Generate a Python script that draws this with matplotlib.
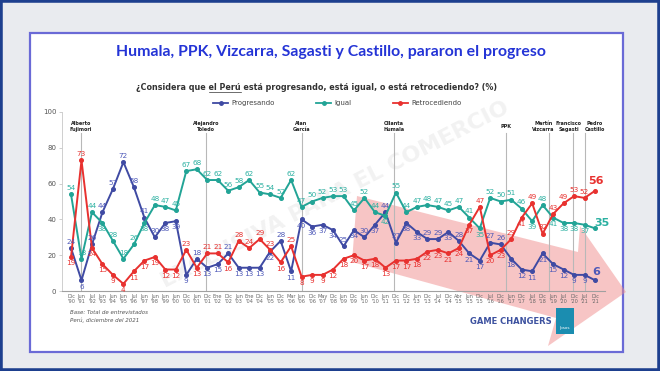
import matplotlib
matplotlib.use('Agg')
import matplotlib.pyplot as plt
from matplotlib.patches import Rectangle, Polygon
from matplotlib.lines import Line2D

# ---------------- data ----------------
months = ['Dic','Jun','Jul','Jun','Jun','Jun','Jul','Jun','Jun','Jun',
          'Jun','Dic','Jun','Dic','Ene','Dic','Jun','Ene','Dic','Jun',
          'Dic','Mar','Jun','Dic','May','Dic','Jun','Dic','Jun','Dic',
          'Jun','Dic','Dic','Jun','Dic','Jul','Dic','Abr','Jun','Dic',
          'Jul','Dic','Jun','Dic','Jul','Dic','Jun','Jul','Dic','Jul','Dic']
years = ['90','91','92','93','94','95','96','97','98','99',
         '00','00','01','01','02','02','03','04','04','05',
         '05','06','06','06','07','08','09','09','10','10',
         '11','11','12','13','13','14','14','15','15','15',
         '16','16','17','17','18','18','19','20','20','21','21']
progresando = [24,6,26,44,57,72,58,41,30,38,
               39,9,18,13,15,21,13,13,13,22,
               28,11,40,36,37,34,25,34,30,37,
               44,27,38,33,29,29,33,28,21,17,
               27,26,18,12,11,21,15,12,9,9,6]
igual = [54,18,44,38,28,18,26,38,48,47,
         45,67,68,62,62,56,58,62,55,54,
         52,62,47,50,52,53,53,45,52,44,
         42,55,44,47,48,47,45,47,41,35,
         52,50,51,46,39,48,41,38,38,37,35]
retrocediendo = [19,73,24,15,9,4,11,17,19,12,
                 12,23,13,21,21,16,28,24,29,23,
                 16,25,8,9,9,12,18,20,17,18,
                 13,17,17,18,22,23,21,24,37,47,
                 20,23,29,41,49,32,43,49,53,52,56]
series_names = ['Progresando', 'Igual', 'Retrocediendo']
presidents = ['Alberto\nFujimori', 'Alejandro\nToledo', 'Alan\nGarcía', 'Ollanta\nHumala',
              'PPK', 'Martín\nVizcarra', 'Francisco\nSagasti', 'Pedro\nCastillo']
president_pos = [0.95, 12.9, 22.0, 30.8, 41.5, 45.6, 47.9, 49.0]
president_label_pos = [0.95, 12.9, 22.0, 30.8, 41.5, 45.1, 47.5, 49.95]

title = 'Humala, PPK, Vizcarra, Sagasti y Castillo, pararon el progreso'
subtitle = '¿Considera que el Perú está progresando, está igual, o está retrocediendo? (%)'

# ---------------- style ----------------
C_PROG = '#3f4aa3'
C_IGU = '#22a496'
C_RET = '#e8312f'
L_PROG = '#4d58b8'
L_IGU = '#2bb0a1'
L_RET = '#e8312f'

W, H = 660, 371
def fx(px): return px / W
def fy(py): return 1 - py / H

fig = plt.figure(figsize=(6.6, 3.71), dpi=100, facecolor='#e9ebef')

# card
card = Rectangle((fx(30), fy(352)), fx(623) - fx(30), fy(33) - fy(352),
                 transform=fig.transFigure, facecolor='white',
                 edgecolor='#6a6ad6', lw=1.6, zorder=1)
fig.patches.append(card)
outer = Rectangle((0, 0), 1, 1, transform=fig.transFigure, fill=False,
                  edgecolor='#1d3f8e', lw=4, zorder=20)
fig.patches.append(outer)

# watermark
fig.text(fx(335), fy(195), 'EXCLUSIVA PARA EL COMERCIO', rotation=27,
         ha='center', va='center', fontsize=16, fontweight='bold',
         color='#d0d0d0', alpha=0.28, zorder=2)

# pink arrow
arrow_px = [(357, 196), (578, 252), (580, 226), (626, 292),
            (548, 346), (556, 318), (352, 262)]
arrow = Polygon([(fx(x), fy(y)) for x, y in arrow_px], closed=True,
                transform=fig.transFigure, facecolor='#f08c8c',
                edgecolor='none', alpha=0.5, zorder=2)
fig.patches.append(arrow)

# axes
ax = fig.add_axes([fx(62), fy(291), fx(605) - fx(62), fy(112) - fy(291)])
ax.set_zorder(3)
ax.patch.set_visible(False)
n = len(months)
xs = list(range(n))
ax.set_xlim(-0.86, 50.95)
ax.set_ylim(0, 100)

for x0 in president_pos:
    ax.plot([x0, x0], [0, 88], color='#b8b8b8', lw=0.8, zorder=1)
for name, x0 in zip(presidents, president_label_pos):
    ax.text(x0, 92, name, ha='center', va='center', fontsize=3.5,
            fontweight='bold', color='#222222', linespacing=1.2)

data = [progresando, igual, retrocediendo]
lcols = [C_PROG, C_IGU, C_RET]
tcols = [L_PROG, L_IGU, L_RET]
for vals, c in zip(data, lcols):
    ax.plot(xs, vals, color=c, lw=1.4, marker='o', markersize=2.6, zorder=3)

# data labels
for i in range(n - 1):
    vals = [d[i] for d in data]
    order = sorted(range(3), key=lambda k: vals[k])
    lo, mid, hi = order
    offs = {hi: 4.5, lo: -4.5}
    offs[mid] = 4.5 if (vals[hi] - vals[mid]) > (vals[mid] - vals[lo]) else -4.5
    for k in range(3):
        ax.annotate(str(vals[k]), (i, vals[k]), xytext=(0, offs[k]),
                    textcoords='offset points', ha='center', va='center',
                    fontsize=5.2, color=tcols[k], zorder=4)

# final labels
last = n - 1
ax.annotate(str(retrocediendo[last]), (last, retrocediendo[last]), xytext=(1, 7),
            textcoords='offset points', ha='center', va='center',
            fontsize=8, fontweight='bold', color=L_RET)
ax.annotate(str(igual[last]), (last, igual[last]), xytext=(5, 4),
            textcoords='offset points', ha='center', va='center',
            fontsize=8, fontweight='bold', color=L_IGU)
ax.annotate(str(progresando[last]), (last, progresando[last]), xytext=(1, 6),
            textcoords='offset points', ha='center', va='center',
            fontsize=8, fontweight='bold', color=L_PROG)

ax.set_xticks(xs)
ax.set_xticklabels([f"{m}\n'{y}" for m, y in zip(months, years)],
                   fontsize=3.6, color='#666666', linespacing=1.1)
ax.set_yticks([0, 20, 40, 60, 80, 100])
ax.tick_params(axis='x', length=0, pad=2)
ax.tick_params(axis='y', length=2, width=0.5, colors='#bbbbbb', labelsize=5,
               labelcolor='#555555', pad=2)
for s in ['top', 'right']:
    ax.spines[s].set_visible(False)
ax.spines['left'].set_color('#c8c8c8')
ax.spines['left'].set_linewidth(0.6)
ax.spines['bottom'].set_color('#a0a0a0')
ax.spines['bottom'].set_linewidth(0.8)

# legend
handles = [Line2D([], [], color=c, lw=1.3, marker='o', markersize=2.5) for c in lcols]
fig.legend(handles, series_names, loc='center', bbox_to_anchor=(fx(337), fy(103)),
           ncol=3, frameon=False, fontsize=5, handlelength=2.2,
           columnspacing=6, handletextpad=0.4, labelcolor='#444444')

# title & subtitle
fig.text(fx(331), fy(52), title, ha='center', va='center', fontsize=11.4,
         fontweight='bold', color='#2434d6', family='Lato', zorder=5)
sub = fig.text(fx(317), fy(88), subtitle, ha='center', va='center', fontsize=5.8,
               fontweight='bold', color='#333333', zorder=5)

renderer = fig.canvas.get_renderer()
bb = sub.get_window_extent(renderer)
def _w(s):
    t = fig.text(0, 0, s, fontsize=5.8, fontweight='bold')
    w = t.get_window_extent(renderer).width
    t.remove()
    return w
x_end = bb.x0 + _w('¿Considera que el Perú')
x_start = x_end - _w('el Perú')
uy = bb.y0 + 0.5
fig.add_artist(Line2D([x_start / fig.bbox.width, x_end / fig.bbox.width],
                      [uy / fig.bbox.height, uy / fig.bbox.height],
                      transform=fig.transFigure, color='#333333', lw=0.5, zorder=5))

# footer
fig.text(fx(70), fy(313), 'Base: Total de entrevistados', fontsize=4, style='italic',
         color='#555555', va='center', zorder=5)
fig.text(fx(70), fy(320), 'Perú, diciembre del 2021', fontsize=4, style='italic',
         color='#555555', va='center', zorder=5)
fig.text(fx(511), fy(321), 'GAME CHANGERS', fontsize=6, fontweight='bold',
         color='#3d52a0', ha='center', va='center', zorder=5)
logo = Rectangle((fx(556), fy(334)), fx(574) - fx(556), fy(308) - fy(334),
                 transform=fig.transFigure, facecolor='#1b8db0', edgecolor='none', zorder=5)
fig.patches.append(logo)
fig.text(fx(565), fy(328), 'Ipsos', fontsize=3, color='white', ha='center',
         va='center', zorder=6)

fig.savefig('out.png', dpi=100, facecolor=fig.get_facecolor())
